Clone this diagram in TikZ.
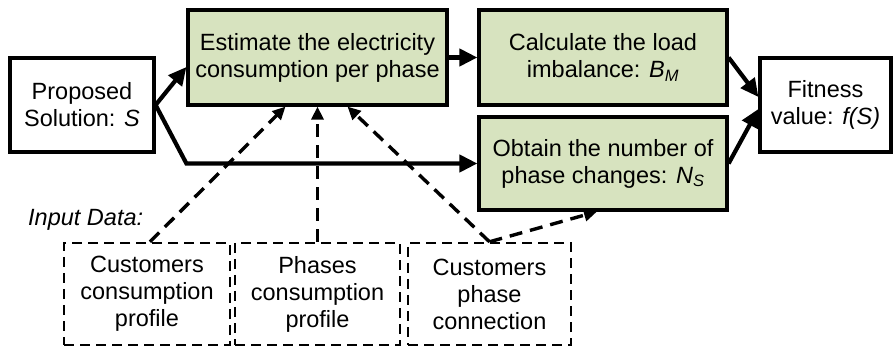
\documentclass[tikz,border=0pt]{standalone}
\usepackage{fontspec}
\setmainfont{Liberation Sans}
\usetikzlibrary{arrows.meta,calc}

\definecolor{boxgreen}{RGB}{215,227,191}

\begin{document}
\begin{tikzpicture}[x = 1pt, y = -1pt,
    txt/.style = {font=\fontsize{23.5}{27}\selectfont, align=center, inner sep=0pt},
    plainbox/.style = {txt, draw, line width=3.2pt},
    procbox/.style = {plainbox, fill=boxgreen},
    inbox/.style = {txt, draw, line width=2.4pt, dash pattern=on 10pt off 6pt},
    flow/.style = {line width=4.2pt, -{Triangle[length=18pt, width=17pt]}},
    feed/.style = {line width=3.4pt, dash pattern=on 13pt off 8pt, -{Triangle[length=13pt, width=12pt]}}
    ]
    \useasboundingbox (0, 0) rectangle (894, 347);

    % main blocks
    \node[plainbox, minimum width=144, minimum height=94] (prop) at (82, 105)
        {Proposed\\Solution: \textit{S}};
    \node[procbox, minimum width=259, minimum height=95] (est) at (317.5, 57.5)
        {Estimate the electricity\\consumption per phase};
    \node[procbox, minimum width=248, minimum height=95] (calc) at (603, 57.5)
        {Calculate the load\\imbalance: \textit{B\textsubscript{M}}};
    \node[procbox, minimum width=248, minimum height=93] (obt) at (603, 163.5)
        {Obtain the number of\\phase changes: \textit{N\textsubscript{S}}};
    \node[plainbox, minimum width=131, minimum height=94] (fit) at (825.5, 105)
        {Fitness\\value: \textit{f(S)}};

    % input data
    \node[txt, anchor=base west] (inlbl) at (28, 226) {\textit{Input Data:}};
    \node[inbox, minimum width=166, minimum height=102] (cust) at (147, 294)
        {Customers\\consumption\\profile};
    \node[inbox, minimum width=165, minimum height=102] (phas) at (317.5, 294)
        {Phases\\consumption\\profile};
    \node[inbox, minimum width=163, minimum height=102] (conn) at (489.5, 294)
        {Customers\\phase\\connection};

    \draw[flow] (prop.east) -- ($(est.west) + (0, 9.5)$);
    \draw[flow] (prop.east) -- (obt.west -| est.west) -- (obt.west);
    \draw[flow] (est.east) -- (calc.west);
    \draw[flow] (calc.east) -- ($(fit.west) + (0, -8)$);
    \draw[flow] (obt.east) -- ($(fit.west) + (0, 4)$);

    \draw[feed] ($(cust.north) + (3, 0)$) -- ($(est.south) + (-32, 0)$);
    \draw[feed] (phas.north) -- (phas.north |- est.south);
    \draw[feed] (conn.north) -- ($(est.south) + (30, 0)$);
    \draw[feed] (conn.north) -- ($(obt.south) + (-6, 0)$);
\end{tikzpicture}
\end{document}
